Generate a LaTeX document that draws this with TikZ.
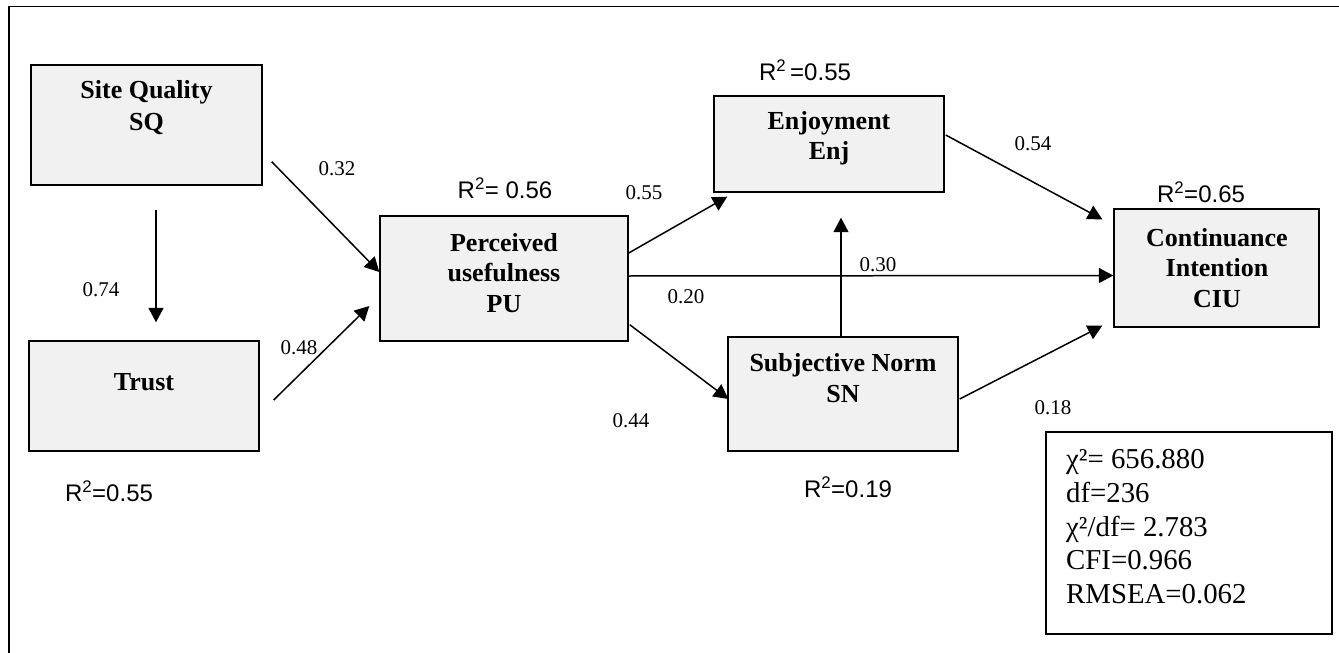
\documentclass[tikz,border=0pt]{standalone}
\usepackage{fontspec}
\setmainfont{Liberation Serif}
\newfontfamily\arialf{Liberation Sans}
\usetikzlibrary{arrows.meta,calc}
\definecolor{boxgray}{RGB}{241,241,241}
\tikzset{
  box/.style={draw=black, line width=1.4pt, fill=boxgray, rectangle, inner sep=0pt},
  statbox/.style={draw=black, line width=1.4pt, fill=white, rectangle, inner sep=0pt},
  boxtext/.style={font=\fontsize{26}{30.5}\selectfont\bfseries, align=center, inner sep=0pt},
  coef/.style={font=\fontsize{21}{24}\selectfont, inner sep=0pt},
  rsq/.style={font=\arialf\fontsize{24}{28}\selectfont, inner sep=0pt},
  stat/.style={font=\fontsize{28.8}{33}\selectfont, inner sep=0pt, anchor=base west},
  arr/.style={line width=1.5pt, -{Triangle[length=14.5pt,width=15pt]}},
  frame/.style={line width=1.5pt}
}
\begin{document}
\begin{tikzpicture}[x=1pt,y=-1pt]
\useasboundingbox (0,0) rectangle (1339,653);
\fill[white] (0,0) rectangle (1339,653);
% outer frame (right and bottom sides lie outside the picture)
\draw[frame] (9,653) -- (9,6.5) -- (1339,6.5);

% boxes
\node[box, minimum width=231pt, minimum height=120pt] (sq) at (146.5,125) {};
\node[box, minimum width=230pt, minimum height=110pt] (trust) at (144,396) {};
\node[box, minimum width=248pt, minimum height=125pt] (pu) at (504,278.5) {};
\node[box, minimum width=230pt, minimum height=96pt] (enj) at (829,144) {};
\node[box, minimum width=230pt, minimum height=114pt] (sn) at (843,394) {};
\node[box, minimum width=205pt, minimum height=118pt] (ciu) at (1216.5,268) {};
\node[statbox, minimum width=286pt, minimum height=202pt] (stats) at (1189,533) {};

% box texts
\node[boxtext, font=\fontsize{26}{32}\selectfont\bfseries] (sqt) at (146.5,108) {Site Quality\\SQ};
\node[boxtext] (trustt) at (144,382) {Trust};
\node[boxtext] (put) at (504,273) {Perceived\\usefulness\\PU};
\node[boxtext] (enjt) at (829,138) {Enjoyment\\Enj};
\node[boxtext] (snt) at (843,378) {Subjective Norm\\SN};
\node[boxtext] (ciut) at (1217,268) {Continuance\\Intention\\CIU};

% statistics
\node[stat] (s1) at (1066,468) {χ²= 656.880};
\node[stat] (s2) at (1066,502) {df=236};
\node[stat] (s3) at (1066,536) {χ²/df= 2.783};
\node[stat] (s4) at (1066,569.5) {CFI=0.966};
\node[stat] (s5) at (1066,603) {RMSEA=0.062};

% R squared labels
\node[rsq] (r1) at (505,188) {R\textsuperscript{2}= 0.56};
\node[rsq] (r2) at (805,70) {R\textsuperscript{2}\,=0.55};
\node[rsq] (r3) at (1201,192) {R\textsuperscript{2}=0.65};
\node[rsq] (r4) at (848,487) {R\textsuperscript{2}=0.19};
\node[rsq] (r5) at (109,491) {R\textsuperscript{2}=0.55};

% connectors
\draw[arr] ($(sq.south)+(9.5,24)$) -- ($(trust.north)+(12,-18)$);
\draw[arr] ($(sq.south east)+(9,-24)$) -- ($(pu.west)+(0,-6.5)$);
\draw[arr] ($(trust.east)+(14,4)$) -- ($(pu.west)+(-10,27.5)$);
\draw[arr] ($(pu.east)+(0,-25.5)$) -- ($(enj.south west)+(14,4)$);
\draw[arr] ($(pu.east)+(-1,-2.5)$) -- ($(ciu.west)+(0,7.5)$);
\draw[arr] ($(pu.south east)+(1,-17)$) -- ($(sn.west)+(1,5)$);
\draw[arr] ($(sn.north)+(-2,0)$) -- ($(enj.south)+(12,25)$);
\draw[arr] ($(enj.east)+(1,-9)$) -- ($(ciu.north west)+(-11,11)$);
\draw[arr] ($(sn.east)+(1,5)$) -- ($(ciu.south west)+(-11,-2)$);

% path coefficients
\node[coef] (c1) at (337,169) {0.32};
\node[coef] (c2) at (101,290) {0.74};
\node[coef] (c3) at (299,348) {0.48};
\node[coef] (c4) at (644,193) {0.55};
\node[coef] (c5) at (686,297) {0.20};
\node[coef] (c6) at (631,421) {0.44};
\node[coef] (c7) at (878,265) {0.30};
\node[coef] (c8) at (1033,144) {0.54};
\node[coef] (c9) at (1053,408) {0.18};
\end{tikzpicture}
\end{document}
